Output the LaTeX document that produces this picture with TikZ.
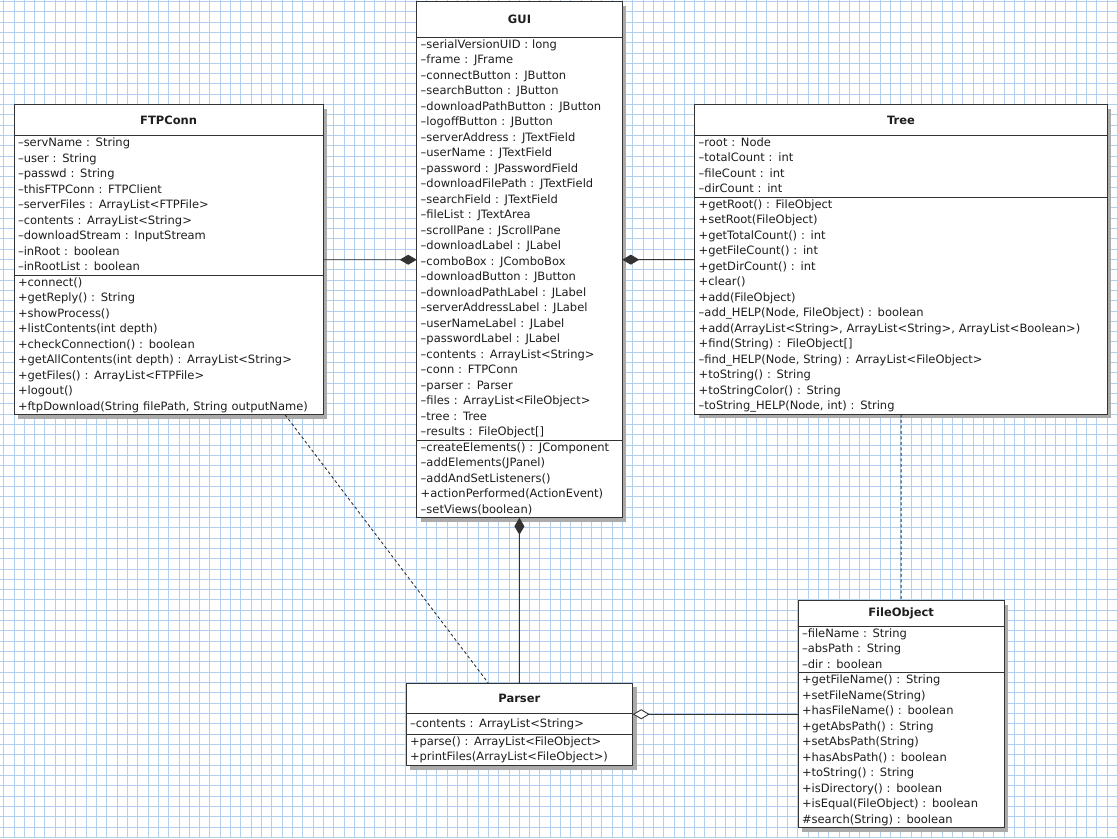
\documentclass[tikz,border=0pt]{standalone}
\usepackage{fontspec}
\setmainfont{DejaVu Sans}
\usepackage{xcolor}
\usepackage{tikz}
\usetikzlibrary{positioning,fit,arrows.meta,backgrounds}
\definecolor{ink}{HTML}{1E1E1E}
\definecolor{line}{HTML}{333333}
\definecolor{gridblue}{HTML}{B2D0EE}
\definecolor{shadowgray}{HTML}{ABABAB}
\tikzset{
  hdr/.style={draw=line, fill=white, line width=0.9pt, inner xsep=4pt, inner ysep=0pt,
    outer sep=0pt, anchor=north west, text=ink, align=center,
    font=\fontsize{11.5}{15.5}\selectfont\bfseries},
  part/.style={draw=line, fill=white, line width=0.9pt, inner xsep=4pt, inner ysep=0pt,
    outer sep=0pt, text=ink, align=left, font=\fontsize{11.5}{15.5}\selectfont,
    execute at begin node=\strut, execute at end node=\strut},
  whole/.style={inner sep=0pt, outer sep=0pt},
  shadowbox/.style={fill=shadowgray},
  gridln/.style={draw=gridblue, line width=1pt},
  compose/.style={draw=line, line width=0.9pt, -{Diamond[length=17pt,width=10pt]}},
  aggr/.style={draw=line, line width=0.9pt, -{Diamond[open,fill=white,length=17pt,width=10pt]}},
  dep/.style={draw=line, line width=0.9pt, dash pattern=on 3pt off 2.5pt}
}

\begin{document}
\begin{tikzpicture}[x=1pt,y=-1pt]
  \useasboundingbox (0,0) rectangle (1118,838);
  \begin{scope}[on background layer]
    \fill[white] (0,0) rectangle (1118,838);
    \foreach \k in {0,...,108} \draw[gridln] ({3.69+10.313*\k},0) -- ++(0,838);
    \foreach \k in {0,...,81} \draw[gridln] (0,{1.4+10.32*\k}) -- ++(1118,0);
  \end{scope}

  % GUI
  \node[hdr, text width=197.6pt, minimum height=35.6pt] (gui-h) at (416.7,1.7) {GUI};
  \node[part, text width=197.6pt, below=0pt of gui-h] (gui-a) {%
    –serialVersionUID : long\\ –frame : JFrame\\ –connectButton : JButton\\
    –searchButton : JButton\\ –downloadPathButton : JButton\\ –logoffButton : JButton\\
    –serverAddress : JTextField\\ –userName : JTextField\\ –password : JPasswordField\\
    –downloadFilePath : JTextField\\ –searchField : JTextField\\ –fileList : JTextArea\\
    –scrollPane : JScrollPane\\ –downloadLabel : JLabel\\ –comboBox : JComboBox\\
    –downloadButton : JButton\\ –downloadPathLabel : JLabel\\ –serverAddressLabel : JLabel\\
    –userNameLabel : JLabel\\ –passwordLabel : JLabel\\ –contents : ArrayList<String>\\
    –conn : FTPConn\\ –parser : Parser\\ –files : ArrayList<FileObject>\\
    –tree : Tree\\ –results : FileObject[]};
  \node[part, text width=197.6pt, below=0pt of gui-a] (gui-m) {%
    –createElements() : JComponent\\ –addElements(JPanel)\\ –addAndSetListeners()\\
    +actionPerformed(ActionEvent)\\ –setViews(boolean)};
  \node[whole, fit=(gui-h)(gui-m)] (gui) {};

  % FTPConn
  \node[hdr, text width=301.3pt, minimum height=31pt] (ftp-h) at (14,104.7) {FTPConn};
  \node[part, text width=301.3pt, below=0pt of ftp-h] (ftp-a) {%
    –servName : String\\ –user : String\\ –passwd : String\\
    –thisFTPConn : FTPClient\\ –serverFiles : ArrayList<FTPFile>\\
    –contents : ArrayList<String>\\ –downloadStream : InputStream\\
    –inRoot : boolean\\ –inRootList : boolean};
  \node[part, text width=301.3pt, below=0pt of ftp-a] (ftp-m) {%
    +connect()\\ +getReply() : String\\ +showProcess()\\ +listContents(int depth)\\
    +checkConnection() : boolean\\ +getAllContents(int depth) : ArrayList<String>\\
    +getFiles() : ArrayList<FTPFile>\\ +logout()\\
    +ftpDownload(String filePath, String outputName)};
  \node[whole, fit=(ftp-h)(ftp-m)] (ftp) {};

  % Tree
  \node[hdr, text width=404.6pt, minimum height=30.6pt] (tree-h) at (694.7,104.7) {Tree};
  \node[part, text width=404.6pt, below=0pt of tree-h] (tree-a) {%
    –root : Node\\ –totalCount : int\\ –fileCount : int\\ –dirCount : int};
  \node[part, text width=404.6pt, below=0pt of tree-a] (tree-m) {%
    +getRoot() : FileObject\\ +setRoot(FileObject)\\ +getTotalCount() : int\\
    +getFileCount() : int\\ +getDirCount() : int\\ +clear()\\ +add(FileObject)\\
    –add\_HELP(Node, FileObject) : boolean\\
    +add(ArrayList<String>, ArrayList<String>, ArrayList<Boolean>)\\
    +find(String) : FileObject[]\\ –find\_HELP(Node, String) : ArrayList<FileObject>\\
    +toString() : String\\ +toStringColor() : String\\ –toString\_HELP(Node, int) : String};
  \node[whole, fit=(tree-h)(tree-m)] (tree) {};

  % FileObject
  \node[hdr, text width=198.3pt, minimum height=25.6pt] (fileobj-h) at (798,600.7) {FileObject};
  \node[part, text width=198.3pt, below=0pt of fileobj-h] (fileobj-a) {%
    –fileName : String\\ –absPath : String\\ –dir : boolean};
  \node[part, text width=198.3pt, below=0pt of fileobj-a] (fileobj-m) {%
    +getFileName() : String\\ +setFileName(String)\\ +hasFileName() : boolean\\
    +getAbsPath() : String\\ +setAbsPath(String)\\ +hasAbsPath() : boolean\\
    +toString() : String\\ +isDirectory() : boolean\\ +isEqual(FileObject) : boolean\\
    \#search(String) : boolean};
  \node[whole, fit=(fileobj-h)(fileobj-m)] (fileobj) {};

  % Parser
  \node[hdr, text width=218.7pt, minimum height=30.7pt] (parser-h) at (406,683) {Parser};
  \node[part, text width=218.7pt, minimum height=20.8pt, below=0pt of parser-h] (parser-a) {%
    –contents : ArrayList<String>};
  \node[part, text width=218.7pt, below=0pt of parser-a] (parser-m) {%
    +parse() : ArrayList<FileObject>\\ +printFiles(ArrayList<FileObject>)};
  \node[whole, fit=(parser-h)(parser-m)] (parser) {};

  \begin{scope}[on background layer]
    \foreach \c in {gui,ftp,tree,fileobj,parser}
      \fill[shadowbox] ([shift={(4,4)}]\c.north west) rectangle ([shift={(4,4)}]\c.south east);
  \end{scope}

  \draw[compose] (ftp) -- (gui);
  \draw[compose] (tree) -- (gui);
  \draw[compose] (parser) -- (gui);
  \draw[aggr] (fileobj.west) -- (fileobj.west -| parser.east);
  \draw[dep] (ftp) -- (parser);
  \draw[dep] (tree) -- (fileobj);
\end{tikzpicture}
\end{document}
